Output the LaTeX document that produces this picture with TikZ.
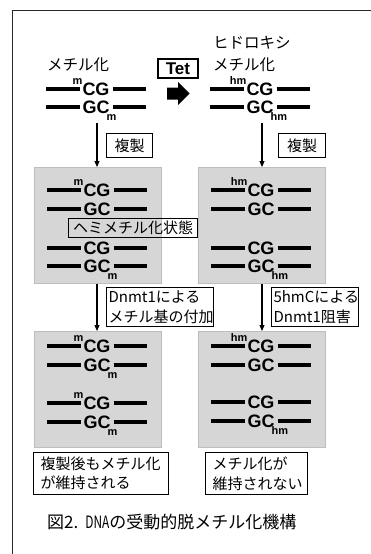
\documentclass[tikz,border=0pt]{standalone}
\usepackage{fontspec}
\setmainfont{Noto Sans CJK JP}
\newfontfamily\arialfont{Liberation Sans}
\usetikzlibrary{arrows.meta}
\definecolor{boxgray}{RGB}{214,214,214}
\definecolor{boxedge}{RGB}{190,190,190}
\definecolor{framecol}{RGB}{40,40,40}
\tikzset{
 dnaline/.style={line width=3.6pt},
 dnatext/.style={font=\arialfont\bfseries\fontsize{18}{18}\selectfont, inner sep=0.3pt},
 suptext/.style={font=\arialfont\bfseries\fontsize{11}{11}\selectfont, inner sep=0pt},
 graybox/.style={fill=boxgray, draw=boxedge, line width=0.6pt, minimum width=127pt, minimum height=116pt, anchor=north west, inner sep=0pt},
 labelbox/.style={draw, line width=1.1pt, fill=white, anchor=north west, font=\fontsize{15}{19.5}\selectfont},
 varrow/.style={line width=1.1pt, -{Triangle[length=6pt,width=5pt]}},
 jtext/.style={font=\fontsize{15.5}{22}\selectfont, inner sep=0pt, anchor=west, align=left},
 framepen/.style={line width=1.2pt, draw=framecol}
}
\newcommand\strand[6]{%
 \node[dnatext] (#1) at (#2,#3) {#4};
 \draw[dnaline, shorten >=2.5pt] (#2-50,#3) -- (#1.west);
 \draw[dnaline, shorten <=2.5pt] (#1.east) -- (#2+50,#3);
 \ifx&#5&\else\node[suptext,anchor=south east] (#1-sup) at ([xshift=0.5pt,yshift=4.5pt]#1.west) {#5};\fi
 \ifx&#6&\else\node[suptext,anchor=base west] (#1-sub) at ([xshift=-3.5pt,yshift=-13pt]#1.east) {#6};\fi
}
\begin{document}
\begin{tikzpicture}[x=1pt,y=-1pt]
\useasboundingbox (0,0) rectangle (371,554);
% frame
\draw[framepen] (371,10.5) -- (12.5,10.5) -- (12.5,554);

% top labels
\node[jtext] (lblL) at (47,65) {メチル化};
\node[jtext] (lblR) at (213,54) {ヒドロキシ\\メチル化};

% Tet and thick arrow
\node[draw, line width=1.8pt, font=\arialfont\bfseries\fontsize{17}{17}\selectfont, minimum width=40pt, minimum height=19pt, inner sep=0pt, anchor=north west] (tet) at (157,58) {Tet};
\fill (167,87.5) -- (178,87.5) -- (178,82) -- (189.5,93.5) -- (178,105) -- (178,99.5) -- (167,99.5) -- cycle;

% gray boxes
\node[graybox] (mL) at (34,167) {};
\node[graybox] (mR) at (198,167) {};
\node[graybox] (bL) at (34,331) {};
\node[graybox] (bR) at (198,331) {};

% top DNA
\strand{t1}{96}{89}{CG}{m}{}
\strand{t2}{96}{107}{GC}{}{m}
\strand{t3}{260}{89}{CG}{hm}{}
\strand{t4}{260}{107}{GC}{}{hm}

% middle DNA
\strand{m1}{97}{190}{CG}{m}{}
\strand{m2}{97}{209}{GC}{}{}
\strand{m3}{97}{248}{CG}{}{}
\strand{m4}{97}{266}{GC}{}{m}
\strand{m5}{261}{190}{CG}{hm}{}
\strand{m6}{261}{209}{GC}{}{}
\strand{m7}{261}{248}{CG}{}{}
\strand{m8}{261}{266}{GC}{}{hm}

% bottom DNA
\strand{b1}{97}{346}{CG}{m}{}
\strand{b2}{97}{365}{GC}{}{m}
\strand{b3}{97}{403}{CG}{m}{}
\strand{b4}{97}{422}{GC}{}{m}
\strand{b5}{261}{346}{CG}{hm}{}
\strand{b6}{261}{365}{GC}{}{}
\strand{b7}{261}{402}{CG}{}{}
\strand{b8}{261}{421}{GC}{}{hm}

% hemi label (no fill)
\node[labelbox, fill=none, minimum width=129pt, minimum height=19pt, inner sep=0pt] (hemi) at (68,218) {ヘミメチル化状態};

% vertical arrows
\coordinate (aL) at (97,123);
\coordinate (aR) at (262,123);
\draw[varrow] (aL) -- (aL |- mL.north);
\draw[varrow] (aR) -- (aR |- mR.north);
\draw[varrow] (mL.south -| aL) -- (bL.north -| aL);
\draw[varrow] (mR.south -| aR) -- (bR.north -| aR);

% labels by arrows
\node[labelbox, minimum width=46pt, minimum height=24pt, inner sep=0pt] (dupL) at (106,133) {複製};
\node[labelbox, minimum width=47pt, minimum height=24pt, inner sep=0pt] (dupR) at (278,133) {複製};
\node[labelbox, text width=103pt, align=left, inner xsep=2pt, minimum height=38pt] (dnmtL) at (106,287) {Dnmt1による\\メチル基の付加};
\node[labelbox, text width=83pt, align=left, inner xsep=2pt, minimum height=38pt] (hmcR) at (271,287) {5hmCによる\\Dnmt1阻害};

% result boxes
\node[labelbox, text width=121pt, align=left, inner xsep=7pt, minimum height=42pt] (resL) at (33,452) {複製後もメチル化\\が維持される};
\node[labelbox, text width=88pt, align=left, inner xsep=7pt, minimum height=42pt] (resR) at (205,452) {メチル化が\\維持されない};

% caption
\node[jtext, font=\fontsize{17}{17}\selectfont] (cap) at (47,522) {図2.\hspace{7pt}\scalebox{0.7}[1]{DNA}の受動的脱メチル化機構};
\end{tikzpicture}
\end{document}
